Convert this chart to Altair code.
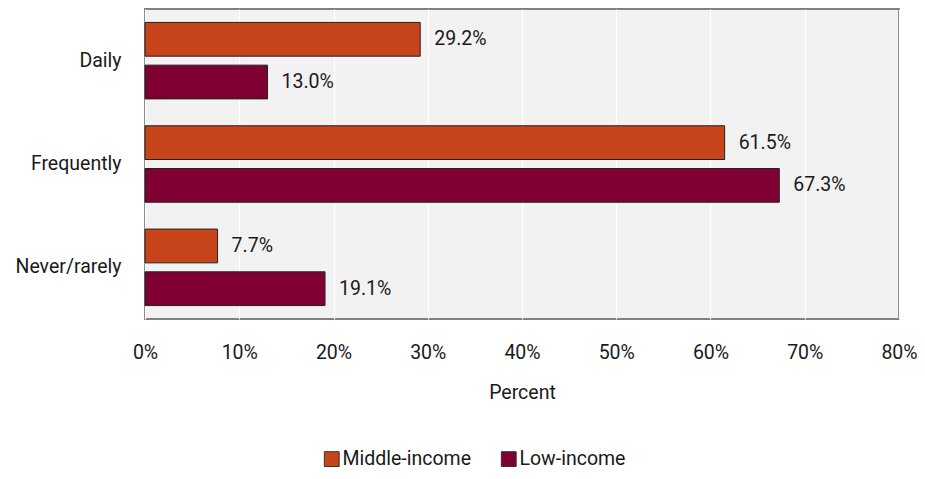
import altair as alt
import pandas as pd

categories = ["Daily", "Frequently", "Never/rarely"]
series = ["Middle-income", "Low-income"]
middle_income = [29.2, 61.5, 7.7]
low_income = [13.0, 67.3, 19.1]
colors = ["#C8441A", "#800034"]

rows = []
for i, c in enumerate(categories):
    rows.append({"cat": c, "series": series[0], "value": middle_income[i]})
    rows.append({"cat": c, "series": series[1], "value": low_income[i]})
df = pd.DataFrame(rows)
df["label"] = df["value"].map(lambda v: f"{v:.1f}%")
df["frac"] = df["value"] / 100.0

FONT = "Roboto"
FS = 19.5

y = alt.Y("cat:N", sort=categories, title=None,
          scale=alt.Scale(paddingInner=0.26, paddingOuter=0.13),
          axis=alt.Axis(labelFontSize=FS, labelColor="#1a1a1a", labelFont=FONT,
                        ticks=False, domain=False, labelPadding=24))
yoff = alt.YOffset("series:N", sort=series,
                   scale=alt.Scale(paddingInner=0.21, paddingOuter=0))
x = alt.X("frac:Q", title="Percent",
          scale=alt.Scale(domain=[0, 0.8], nice=False),
          axis=alt.Axis(format=".0%", values=[i / 10 for i in range(9)],
                        labelFontSize=FS, labelColor="#1a1a1a", labelFont=FONT,
                        labelFlush=False,
                        titleFontSize=FS, titleFont=FONT, titleFontWeight="normal",
                        titleColor="#1a1a1a", titlePadding=22,
                        ticks=False, domain=False, labelPadding=24,
                        grid=True, gridColor="#ffffff", gridWidth=1.2))

base = alt.Chart(df)

bars = base.mark_bar(stroke="#222222", strokeWidth=1).encode(
    x=x, y=y, yOffset=yoff,
    color=alt.Color("series:N", sort=series,
                    scale=alt.Scale(domain=series, range=colors),
                    legend=alt.Legend(title=None, orient="none", direction="horizontal",
                                      legendX=177, legendY=440,
                                      symbolType="square", symbolSize=220,
                                      symbolStrokeColor="#333333", symbolStrokeWidth=1,
                                      labelFontSize=FS, labelFont=FONT, labelColor="#1a1a1a",
                                      columnPadding=27, labelOffset=1)),
)

labels = base.mark_text(align="left", baseline="middle", dx=14, fontSize=FS,
                        font=FONT, color="#1a1a1a").encode(
    x="frac:Q", y=alt.Y("cat:N", sort=categories), yOffset=alt.YOffset("series:N", sort=series),
    text="label:N",
)

chart = (bars + labels).properties(
    width=754, height=310,
    autosize=alt.AutoSizeParams(type="none"),
    padding={"left": 137, "top": 1, "right": 18, "bottom": 152},
).configure(font=FONT).configure_view(
    fill="#f2f2f2", stroke="#808080", strokeWidth=2
)

chart.save("out.html", embed_options={"renderer": "svg", "actions": False})
